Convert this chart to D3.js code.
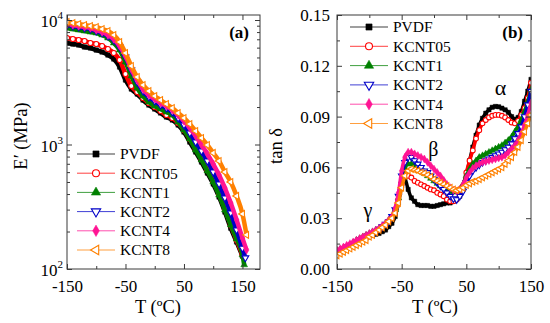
<!DOCTYPE html>
<html><head><meta charset="utf-8">
<script src="https://cdn.jsdelivr.net/npm/d3@7"></script>
<style>
body{margin:0;background:#fff}
svg{display:block}
</style>
</head><body>
<svg id="c" width="550" height="323"></svg>
<script>
// ---------------- DATA ----------------
const seriesNames = ["PVDF","KCNT05","KCNT1","KCNT2","KCNT4","KCNT8"];

// Panel (a): storage modulus E' (MPa) vs T (°C)
const tempE = [-150,-140,-130,-120,-110,-100,-90,-80,-70,-60,-50,-40,-30,-20,-10,0,10,20,30,40,50,60,70,80,90,100,110,120,130,140,150];
const E_PVDF   = [6535,6415,6298,6069,5958,5741,5533,5234,4861,4193,3297,2791,2545,2277,2076,1928,1791,1663,1574,1435,1260,1047,871,723,590,482,379,287,213,165,127];
const E_KCNT05 = [7169,7037,6908,6782,6535,6415,6182,5849,5431,4771,3685,2951,2640,2363,2154,2001,1858,1726,1633,1489,1308,1107,920,765,624,509,400,303,226,171,130];
const E_KCNT1  = [8625,8467,8312,8159,8010,7863,7578,7169,6535,5741,4600,3550,2843,2452,2194,2038,1928,1824,1726,1516,1308,1107,903,751,613,500,393,298,226,174,130];
const E_KCNT2  = [9117,8950,8786,8625,8467,8159,7863,7439,6908,6069,5044,3966,3177,2690,2407,2235,2076,1964,1824,1633,1435,1237,1047,887,737,601,482,372,282,206,147];
const E_KCNT4  = [9287,9117,8950,8786,8625,8312,8010,7578,7037,6182,5138,4040,3297,2791,2498,2320,2154,2038,1893,1726,1545,1357,1170,991,839,697,569,447,339,248,177];
const E_KCNT8  = [9637,9460,9287,9117,8950,8786,8467,8159,7578,6657,5431,4271,3485,3006,2690,2452,2277,2115,1964,1791,1633,1461,1284,1128,991,855,737,601,500,386,277];
// last measured point beyond 150 °C (temperature, modulus)
const E_endTemp = [150,150,153,155,157,157];
const E_endVal  = [127,130,108,123,142,188];

// Panel (b): tan delta vs T (°C)
const tempTan = [-150,-145,-140,-135,-130,-125,-120,-115,-110,-105,-100,-95,-90,-85,-80,-75,-70,-65,-60,-55,-50,-45,-40,-35,-30,-25,-20,-15,-10,-5,0,5,10,15,20,25,30,35,40,45,50,55,60,65,70,75,80,85,90,95,100,105,110,115,120,125,130,135,140,145,150];
const tan_PVDF = [.010,.011,.012,.013,.014,.015,.016,.017,.018,.019,
  .0195,.020,.0205,.021,.022,.023,.025,.027,.031,.039,
  .049,.053,.047,.042,.040,.038,.0375,.0375,.0375,.037,
  .037,.0375,.038,.0385,.039,.039,.040,.041,.043,.047,
  .055,.064,.072,.079,.085,.089,.092,.094,.0955,.096,
  .0958,.095,.094,.0925,.090,.0885,.0895,.093,.099,.105,.112];
const tan_KCNT05 = [.010,.011,.012,.013,.014,.015,.016,.017,.0185,.0195,
  .020,.021,.022,.023,.0245,.026,.028,.030,.034,.041,
  .050,.055,.055,.054,.052,.051,.050,.049,.048,.047,
  .0465,.045,.044,.043,.041,.040,.040,.041,.044,.049,
  .057,.064,.070,.077,.082,.086,.088,.0895,.0905,.091,
  .091,.0905,.0895,.088,.0865,.086,.0875,.091,.095,.101,.110];
const tan_KCNT1 = [.011,.0115,.012,.013,.014,.0155,.017,.018,.019,.020,
  .021,.022,.023,.024,.025,.027,.029,.031,.035,.042,
  .052,.059,.062,.062,.061,.0595,.058,.0565,.055,.0535,
  .052,.0505,.049,.048,.047,.046,.0455,.0455,.047,.050,
  .055,.059,.062,.064,.066,.067,.068,.069,.070,.071,
  .072,.073,.0745,.076,.078,.081,.084,.088,.093,.099,.106];
const tan_KCNT2 = [.010,.011,.012,.013,.014,.015,.016,.017,.018,.019,
  .020,.021,.022,.0235,.025,.0265,.028,.031,.035,.043,
  .055,.063,.066,.066,.064,.062,.060,.058,.057,.055,
  .053,.051,.049,.047,.045,.043,.0415,.041,.043,.046,
  .051,.055,.058,.060,.0615,.063,.064,.065,.066,.067,
  .068,.069,.0705,.072,.074,.077,.080,.084,.090,.097,.105];
const tan_KCNT4 = [.011,.012,.013,.014,.015,.016,.017,.018,.019,.020,
  .021,.022,.023,.024,.0255,.027,.029,.031,.036,.045,
  .058,.066,.069,.069,.068,.067,.066,.065,.063,.061,
  .059,.057,.055,.0525,.050,.048,.0465,.046,.047,.050,
  .054,.057,.0595,.061,.062,.063,.0635,.064,.0645,.065,
  .0655,.066,.067,.069,.071,.073,.076,.080,.085,.091,.098];
const tan_KCNT8 = [.008,.009,.010,.011,.012,.013,.014,.015,.016,.017,
  .019,.020,.0215,.023,.0245,.026,.028,.030,.033,.039,
  .048,.055,.058,.059,.0585,.058,.057,.0565,.0555,.0545,
  .053,.052,.051,.050,.049,.048,.047,.0465,.047,.048,
  .0495,.0505,.0515,.052,.053,.054,.055,.056,.057,.058,
  .059,.060,.062,.064,.066,.069,.072,.076,.081,.086,.091];

// ticks
const xTicksMajor = [-150,-50,50,150];
const xTicksMinor = [-100,0,100];
const eTicksMajor = [100,1000,10000];
const eTickExp = ["2","3","4"];
const eTicksMinor = [200,300,400,500,600,700,800,900,2000,3000,4000,5000,6000,7000,8000,9000];
const tanTicksMajor = [0,0.03,0.06,0.09,0.12,0.15];
const tanTickLabels = ["0.00","0.03","0.06","0.09","0.12","0.15"];
const tanTicksMinor = [0.015,0.045,0.075,0.105,0.135];
const peakLabels = ["γ","β","α"];
const peakPos = [[-102,0.031],[-1,0.067],[103,0.1025]]; // (T, tanδ) where each label sits

// ---------------- STYLE ----------------
const FONT = "Liberation Serif";
const colors = ["#000000","#ff0000","#008000","#0000c8","#ff1493","#ff8000"];
const symTypes = [d3.symbolSquare,d3.symbolCircle,d3.symbolTriangle,d3.symbolTriangle,d3.symbolDiamond,d3.symbolTriangle];
const symRot = [0,0,0,180,0,-90];
const symOpen = [false,true,false,true,false,true];
const frameColor = "#3a3a3a";

const E_all = [E_PVDF,E_KCNT05,E_KCNT1,E_KCNT2,E_KCNT4,E_KCNT8];
const tan_all = [tan_PVDF,tan_KCNT05,tan_KCNT1,tan_KCNT2,tan_KCNT4,tan_KCNT8];

const svg = d3.select("#c");

function marker(g, i, x, y, size) {
  g.append("path")
    .attr("d", d3.symbol().type(symTypes[i]).size(size)())
    .attr("transform", `translate(${x},${y}) rotate(${symRot[i]})`)
    .attr("fill", symOpen[i] ? "#fff" : colors[i])
    .attr("stroke", colors[i])
    .attr("stroke-width", symOpen[i] ? 1.1 : 0.5);
}
function txt(g) { return g.append("text").attr("font-family", FONT).attr("fill","#000"); }

function frameAndTicks(g, x, y, X0, X1, Y0, Y1, yMajor, yMinor) {
  const ax = (sel, gen) => { sel.call(gen); sel.select(".domain").remove(); sel.selectAll("line").attr("stroke", frameColor); };
  g.append("g").attr("transform",`translate(0,${Y0})`)
    .call(s => ax(s, d3.axisBottom(x).tickValues(xTicksMajor).tickSize(-5).tickPadding(10.5).tickFormat(d => String(d))))
    .attr("font-family", FONT).attr("font-size",17)
    .selectAll("text").attr("fill","#000");
  g.append("g").attr("transform",`translate(0,${Y0})`)
    .call(s => ax(s, d3.axisBottom(x).tickValues(xTicksMinor).tickSize(-3).tickFormat("")));
  g.append("g").attr("transform",`translate(0,${Y1})`)
    .call(s => ax(s, d3.axisTop(x).tickValues(xTicksMajor).tickSize(-5).tickFormat("")));
  g.append("g").attr("transform",`translate(0,${Y1})`)
    .call(s => ax(s, d3.axisTop(x).tickValues(xTicksMinor).tickSize(-3).tickFormat("")));
  g.append("g").attr("transform",`translate(${X0},0)`)
    .call(s => ax(s, d3.axisLeft(y).tickValues(yMajor).tickSize(-5).tickFormat("")));
  g.append("g").attr("transform",`translate(${X0},0)`)
    .call(s => ax(s, d3.axisLeft(y).tickValues(yMinor).tickSize(-3).tickFormat("")));
  g.append("g").attr("transform",`translate(${X1},0)`)
    .call(s => ax(s, d3.axisRight(y).tickValues(yMajor).tickSize(-5).tickFormat("")));
  g.append("g").attr("transform",`translate(${X1},0)`)
    .call(s => ax(s, d3.axisRight(y).tickValues(yMinor).tickSize(-3).tickFormat("")));
  g.append("rect").attr("x",X0).attr("y",Y1).attr("width",X1-X0).attr("height",Y0-Y1)
    .attr("fill","none").attr("stroke",frameColor).attr("stroke-width",1);
}

// ---------------- PANEL (a) ----------------
{
  const X0 = 67, X1 = 260, Y0 = 269, Y1 = 15;
  const x = d3.scaleLinear().domain([-150,180]).range([X0,X1]);
  const y = d3.scaleLog().domain([100,10970]).range([Y0,Y1]);
  const g = svg.append("g");
  g.append("clipPath").attr("id","clipA").append("rect").attr("x",X0).attr("y",Y1).attr("width",X1-X0).attr("height",Y0-Y1);
  const data = g.append("g").attr("clip-path","url(#clipA)");
  E_all.forEach((vals,i) => {
    const pts = tempE.map((t,k) => [t, vals[k]]);
    if (E_endTemp[i] > 150) pts.push([E_endTemp[i], E_endVal[i]]);
    data.append("path").datum(pts)
      .attr("d", d3.line().x(d=>x(d[0])).y(d=>y(d[1])).curve(d3.curveMonotoneX))
      .attr("fill","none").attr("stroke",colors[i]).attr("stroke-width",4.5);
    pts.forEach(d => marker(data, i, x(d[0]), y(d[1]), 20));
  });
  frameAndTicks(g, x, y, X0, X1, Y0, Y1, eTicksMajor, eTicksMinor);
  eTicksMajor.forEach((v,k) => {
    const t = txt(g).attr("x",63).attr("y",y(v)+7).attr("text-anchor","end").attr("font-size",17);
    t.append("tspan").text("10");
    t.append("tspan").attr("font-size",11).attr("dy",-8).text(eTickExp[k]);
  });
  txt(g).attr("transform","translate(27,136) rotate(-90)").attr("text-anchor","middle")
    .attr("font-size",18.5).text("E′ (MPa)");
  txt(g).attr("x",158).attr("y",313).attr("text-anchor","middle").attr("font-size",18.5).text("T (ºC)");
  txt(g).attr("x",249).attr("y",38).attr("text-anchor","end").attr("font-size",17).attr("font-weight","bold").text("(a)");
  const ly0 = 154, ldy = 19.2;
  seriesNames.forEach((n,i) => {
    const yy = ly0 + i*ldy;
    g.append("line").attr("x1",77).attr("x2",115).attr("y1",yy).attr("y2",yy).attr("stroke",colors[i]).attr("stroke-width",1).attr("opacity",0.75);
    marker(g, i, 96, yy, 38);
    txt(g).attr("x",120).attr("y",yy).attr("dy","0.35em").attr("font-size",15.5).text(n);
  });
}

// ---------------- PANEL (b) ----------------
{
  const X0 = 337, X1 = 531, Y0 = 269, Y1 = 15;
  const x = d3.scaleLinear().domain([-150,150]).range([X0,X1]);
  const y = d3.scaleLinear().domain([0,0.15]).range([Y0,Y1]);
  const g = svg.append("g");
  g.append("clipPath").attr("id","clipB").append("rect").attr("x",X0).attr("y",Y1).attr("width",X1-X0).attr("height",Y0-Y1);
  const data = g.append("g").attr("clip-path","url(#clipB)");
  tan_all.forEach((vals,i) => {
    const pts = tempTan.map((t,k) => [t, vals[k]]);
    data.append("path").datum(pts)
      .attr("d", d3.line().x(d=>x(d[0])).y(d=>y(d[1])).curve(d3.curveMonotoneX))
      .attr("fill","none").attr("stroke",colors[i]).attr("stroke-width",3.5);
    pts.forEach(d => marker(data, i, x(d[0]), y(d[1]), 18));
  });
  frameAndTicks(g, x, y, X0, X1, Y0, Y1, tanTicksMajor, tanTicksMinor);
  tanTicksMajor.forEach((v,k) => {
    txt(g).attr("x",330).attr("y",y(v)+6).attr("text-anchor","end").attr("font-size",17).text(tanTickLabels[k]);
  });
  txt(g).attr("transform","translate(282,146) rotate(-90)").attr("text-anchor","middle")
    .attr("font-size",18.5).text("tan δ");
  txt(g).attr("x",435).attr("y",313).attr("text-anchor","middle").attr("font-size",18.5).text("T (ºC)");
  txt(g).attr("x",523).attr("y",38).attr("text-anchor","end").attr("font-size",17).attr("font-weight","bold").text("(b)");
  const pkSize = [20,20,22];
  peakLabels.forEach((s,k) => {
    txt(g).attr("x",x(peakPos[k][0])).attr("y",y(peakPos[k][1])).attr("text-anchor","middle")
      .attr("font-size",pkSize[k]).text(s);
  });
  const ly0 = 27, ldy = 19.3;
  seriesNames.forEach((n,i) => {
    const yy = ly0 + i*ldy;
    g.append("line").attr("x1",350).attr("x2",388).attr("y1",yy).attr("y2",yy).attr("stroke",colors[i]).attr("stroke-width",1).attr("opacity",0.75);
    marker(g, i, 369, yy, 38);
    txt(g).attr("x",393).attr("y",yy).attr("dy","0.35em").attr("font-size",15.5).text(n);
  });
}
</script>
</body></html>
